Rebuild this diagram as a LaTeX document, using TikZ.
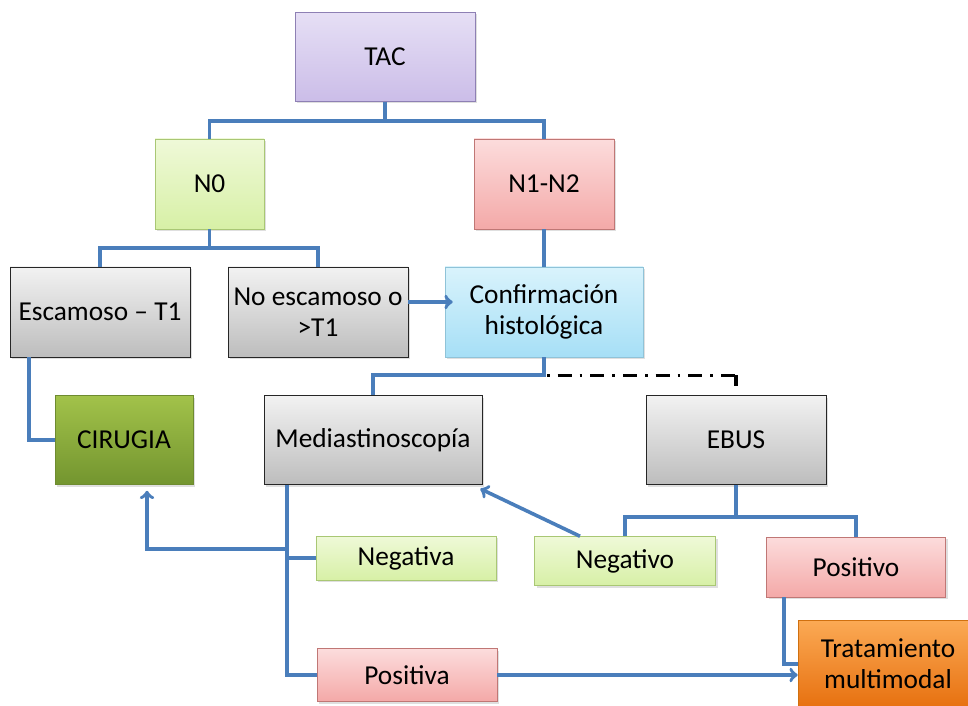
\documentclass[tikz,border=0pt]{standalone}
\usepackage{fontspec}
\setmainfont{Carlito}
\usepackage{xcolor}
\usetikzlibrary{shapes,arrows,positioning,calc,shadows}

\definecolor{linkblue}{HTML}{4A7EBB}
\definecolor{greytop}{HTML}{F2F2F2}
\definecolor{greybot}{HTML}{BDBDBD}
\definecolor{lilactop}{HTML}{E6DFF5}
\definecolor{lilacbot}{HTML}{CBBDE8}
\definecolor{lilacedge}{HTML}{8E80B4}
\definecolor{limetop}{HTML}{EFF9D8}
\definecolor{limebot}{HTML}{D7F0A6}
\definecolor{limeedge}{HTML}{A9C774}
\definecolor{rosetop}{HTML}{FCDCDC}
\definecolor{rosebot}{HTML}{F4A9A8}
\definecolor{roseedge}{HTML}{C07775}
\definecolor{skytop}{HTML}{D9F3FC}
\definecolor{skybot}{HTML}{A6DFF6}
\definecolor{skyedge}{HTML}{8FC3D8}
\definecolor{grasstop}{HTML}{A2C24A}
\definecolor{grassbot}{HTML}{73952F}
\definecolor{grassedge}{HTML}{6E8B30}
\definecolor{orangetop}{HTML}{FBAA55}
\definecolor{orangebot}{HTML}{E7700F}
\definecolor{orangeedge}{HTML}{D0700F}

\tikzset{
  box/.style={rectangle, draw, align=center, inner sep=1pt,
    font=\fontsize{20.5}{23}\selectfont,
    drop shadow={opacity=0.25, shadow xshift=1.5pt, shadow yshift=-1.5pt}},
  greybox/.style={box, draw=black!85, top color=greytop, bottom color=greybot},
  lilacbox/.style={box, draw=lilacedge, top color=lilactop, bottom color=lilacbot},
  limebox/.style={box, draw=limeedge, top color=limetop, bottom color=limebot},
  rosebox/.style={box, draw=roseedge, top color=rosetop, bottom color=rosebot},
  skybox/.style={box, draw=skyedge, top color=skytop, bottom color=skybot},
  grassbox/.style={box, draw=grassedge, top color=grasstop, bottom color=grassbot},
  orangebox/.style={box, draw=orangeedge, top color=orangetop, bottom color=orangebot},
  conn/.style={draw=linkblue, line width=2.7pt},
  dashdotline/.style={draw=black, line width=2.5pt,
    dash pattern=on 2pt off 6pt on 10.5pt off 6pt}
}

\begin{document}
\begin{tikzpicture}[x=0.75pt, y=-0.75pt]
    \useasboundingbox (0,0) rectangle (968,706);

    % Top levels
    \node[lilacbox, minimum width=135pt, minimum height=66.75pt] (tac) at (385,57) {TAC};
    \node[limebox, minimum width=81.75pt, minimum height=67.5pt] (n0) at (209.5,184) {N0};
    \node[rosebox, minimum width=105pt, minimum height=67.5pt] (n12) at (544,184) {N1-N2};

    % Histology
    \node[greybox, minimum width=135pt, minimum height=67.5pt] (esc) at (100,312) {Escamoso – T1};
    \node[greybox, minimum width=135pt, minimum height=67.5pt] (noesc) at (318,312) {No escamoso o\\>T1};
    \node[skybox, minimum width=148.5pt, minimum height=67.5pt] (conf) at (544,312) {Confirmación\\histológica};

    % Procedures
    \node[grassbox, minimum width=103.5pt, minimum height=66.75pt] (cir) at (124,440) {CIRUGIA};
    \node[greybox, minimum width=163.5pt, minimum height=66.75pt] (med) at (373,440) {Mediastinoscopía};
    \node[greybox, minimum width=135pt, minimum height=66.75pt] (ebus) at (736,440) {EBUS};

    % Results
    \node[limebox, minimum width=135pt, minimum height=33pt] (neg) at (406,558) {Negativa};
    \node[rosebox, minimum width=135pt, minimum height=39.75pt] (pos) at (407,675) {Positiva};
    \node[limebox, minimum width=135.75pt, minimum height=36.75pt] (negv) at (625,561) {Negativo};
    \node[rosebox, minimum width=134.25pt, minimum height=45pt] (posv) at (856,567) {Positivo};
    \node[orangebox, minimum width=135pt, minimum height=66pt] (trat) at (888,664) {Tratamiento\\multimodal};

    % Tree connectors
    \draw[conn] (tac.south) -- ++(0,19) -| (n0.north);
    \draw[conn] (tac.south) -- ++(0,19) -| (n12.north);
    \draw[conn] (n0.south) -- ++(0,19) -| (esc.north);
    \draw[conn] (n0.south) -- ++(0,19) -| (noesc.north);
    \draw[conn] (n12.south) -- (conf.north);
    \draw[conn,->] ($(noesc.east)+(0,-10)$) -- ($(conf.west)+(8,-10)$);
    \draw[conn] (conf.south) -- ++(0,18) -| (med.north);

    % Optional EBUS route
    \coordinate (confjoin) at ($(conf.south)+(3,18)$);
    \coordinate (ebusjoin) at (confjoin -| ebus.north);
    \draw[dashdotline] (confjoin) -- (ebusjoin);
    \draw[draw=black, line width=2.5pt, shorten >=7pt] (ebusjoin) -- (ebus.north);

    % Escamoso to surgery
    \draw[conn] ($(esc.south west)+(19,0)$) |- (cir.west);

    % Mediastinoscopy branches
    \coordinate (mbranch) at ($(med.south west)+(23,64)$);
    \coordinate (cirin) at ($(cir.south)+(23,6)$);
    \draw[conn] ($(med.south west)+(23,0)$) |- (neg.west);
    \draw[conn] ($(med.south west)+(23,0)$) |- (pos.west);
    \draw[conn,->] (mbranch) -| (cirin);

    % EBUS branches
    \draw[conn] (ebus.south) -- ++(0,32) -| (negv.north);
    \draw[conn] (ebus.south) -- ++(0,32) -| (posv.north);
    \draw[conn,->] ($(negv.north)+(-45,0)$) -- ($(med.south east)+(-2,4)$);

    % To multimodal treatment
    \draw[conn] ($(posv.south west)+(18,0)$) |- (trat.west);
    \draw[conn,->] (pos.east) -- (pos.east -| trat.west);
\end{tikzpicture}
\end{document}
